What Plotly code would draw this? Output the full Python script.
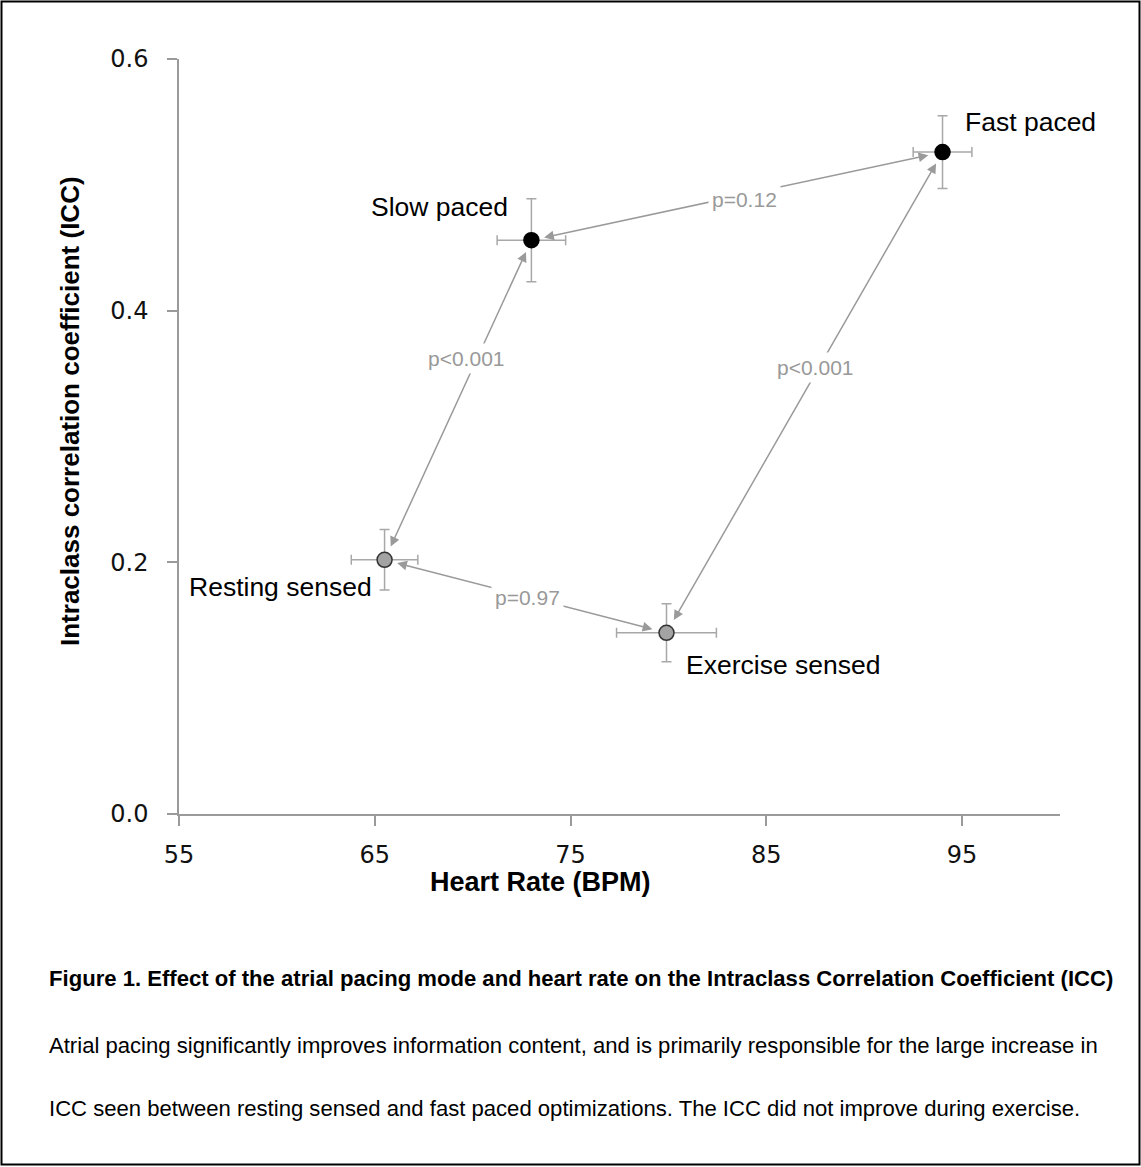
import plotly.graph_objects as go

# ---------------- data ----------------
conditions = ["Slow paced", "Fast paced", "Resting sensed", "Exercise sensed"]
heart_rate = [73.0, 94.0, 65.5, 79.9]
heart_rate_err = [1.75, 1.5, 1.7, 2.55]
icc = [0.456, 0.526, 0.202, 0.144]
icc_err = [0.033, 0.029, 0.024, 0.023]
mode = ["paced", "paced", "sensed", "sensed"]

# comparisons: (index a, index b, p-value label)
comparisons = [(0, 1, "p=0.12"), (0, 2, "p<0.001"), (1, 3, "p<0.001"), (2, 3, "p=0.97")]
# label positions of the p-values (data coords)
p_label_pos = [(83.9, 0.488), (69.7, 0.362), (87.5, 0.355), (72.8, 0.172)]

x_ticks = [55, 65, 75, 85, 95]
y_ticks = [0.0, 0.2, 0.4, 0.6]
y_tick_text = ["0.0", "0.2", "0.4", "0.6"]

# ---------------- layout geometry ----------------
W, H = 1141, 1167
L, R, T, B = 179, 1060, 59, 814
PW, PH = R - L, B - T


def px(xp):
    return (xp - L) / PW


def py(yp):
    return (B - yp) / PH


SANS = "Liberation Sans, Arial, sans-serif"
AXGREY = "#9a9a9a"

fig = go.Figure()

colors = {"paced": "#000000", "sensed": "#a3a3a3"}
lines = {"paced": "#000000", "sensed": "#333333"}

for m in ["paced", "sensed"]:
    idx = [i for i in range(len(conditions)) if mode[i] == m]
    fig.add_trace(go.Scatter(
        x=[heart_rate[i] for i in idx],
        y=[icc[i] for i in idx],
        mode="markers",
        marker=dict(size=15, color=colors[m], line=dict(color=lines[m], width=1.5)),
        error_x=dict(type="data", array=[heart_rate_err[i] for i in idx],
                     color="#a8a8a8", thickness=1.5, width=5),
        error_y=dict(type="data", array=[icc_err[i] for i in idx],
                     color="#a8a8a8", thickness=1.5, width=5),
        showlegend=False,
        hoverinfo="skip",
    ))

annotations = []
# double headed arrows
for (a, b, _lab) in comparisons:
    annotations.append(dict(
        x=heart_rate[a], y=icc[a], ax=heart_rate[b], ay=icc[b],
        xref="x", yref="y", axref="x", ayref="y",
        text="", showarrow=True, arrowside="end+start",
        arrowhead=2, startarrowhead=2, arrowsize=1.3, startarrowsize=1.3,
        arrowwidth=1.5, arrowcolor=AXGREY, standoff=13, startstandoff=13,
    ))
# p-value labels
for (a, b, lab), (lx, ly) in zip(comparisons, p_label_pos):
    annotations.append(dict(
        x=lx, y=ly, xref="x", yref="y", text=lab, showarrow=False,
        font=dict(family=SANS, size=21, color="#999999"),
        bgcolor="white", borderpad=3,
    ))

# point labels
label_offsets = [  # (x pixel anchor, xanchor, y pixel position)
    (510, "right", 207), (963, "left", 122), (374, "right", 587), (684, "left", 665),
]
for name, (lxp, xa, lyp) in zip(conditions, label_offsets):
    annotations.append(dict(
        x=px(lxp), y=py(lyp), xref="paper", yref="paper", text=name,
        showarrow=False, xanchor=xa, yanchor="middle",
        font=dict(family=SANS, size=26.5, color="#000000"),
    ))

# axis titles
annotations.append(dict(
    x=px(540), y=py(882), xref="paper", yref="paper", text="<b>Heart Rate (BPM)</b>",
    showarrow=False, xanchor="center", yanchor="middle",
    font=dict(family=SANS, size=27, color="#000000"),
))
annotations.append(dict(
    x=px(70), y=py(411), xref="paper", yref="paper",
    text="<b>Intraclass correlation coefficient (ICC)</b>", textangle=-90,
    showarrow=False, xanchor="center", yanchor="middle",
    font=dict(family=SANS, size=26, color="#000000"),
))

# caption
annotations.append(dict(
    x=px(47), y=py(978), xref="paper", yref="paper",
    text="<b>Figure 1. Effect of the atrial pacing mode and heart rate on the Intraclass Correlation Coefficient (ICC)</b>",
    showarrow=False, xanchor="left", yanchor="middle",
    font=dict(family=SANS, size=22.1, color="#000000"),
))
annotations.append(dict(
    x=px(47), y=py(1045), xref="paper", yref="paper",
    text="Atrial pacing significantly improves information content, and is primarily responsible for the large increase in",
    showarrow=False, xanchor="left", yanchor="middle",
    font=dict(family=SANS, size=22.1, color="#000000"),
))
annotations.append(dict(
    x=px(47), y=py(1108), xref="paper", yref="paper",
    text="ICC seen between resting sensed and fast paced optimizations. The ICC did not improve during exercise.",
    showarrow=False, xanchor="left", yanchor="middle",
    font=dict(family=SANS, size=22.1, color="#000000"),
))

shapes = [dict(
    type="rect", xref="paper", yref="paper",
    x0=px(1.5), x1=px(1139.5), y0=py(1164.5), y1=py(1.5),
    line=dict(color="#000000", width=2), fillcolor="rgba(0,0,0,0)", layer="below",
)]

fig.update_layout(
    width=W, height=H,
    margin=dict(l=L, r=W - R, t=T, b=H - B, pad=0),
    paper_bgcolor="white", plot_bgcolor="white",
    font=dict(family="DejaVu Sans", size=24, color="#000000"),
    xaxis=dict(
        range=[55, 100], tickvals=x_ticks, showgrid=False, zeroline=False,
        showline=True, linecolor=AXGREY, linewidth=1.5,
        ticks="outside", ticklen=10, tickcolor=AXGREY, tickwidth=1.5,
        tickfont=dict(family="DejaVu Sans", size=24, color="#111111"),
        ticklabelstandoff=8,
    ),
    yaxis=dict(
        range=[0, 0.6], tickvals=y_ticks, ticktext=y_tick_text, showgrid=False,
        zeroline=False, showline=True, linecolor=AXGREY, linewidth=1.5,
        ticks="outside", ticklen=10, tickcolor=AXGREY, tickwidth=1.5,
        tickfont=dict(family="DejaVu Sans", size=24, color="#111111"),
        ticklabelstandoff=14,
    ),
    annotations=annotations,
    shapes=shapes,
)

fig.write_html(
    "out.html",
    config={"displayModeBar": False},
    post_script="document.body.style.margin='0';document.body.style.overflow='hidden';",
)
